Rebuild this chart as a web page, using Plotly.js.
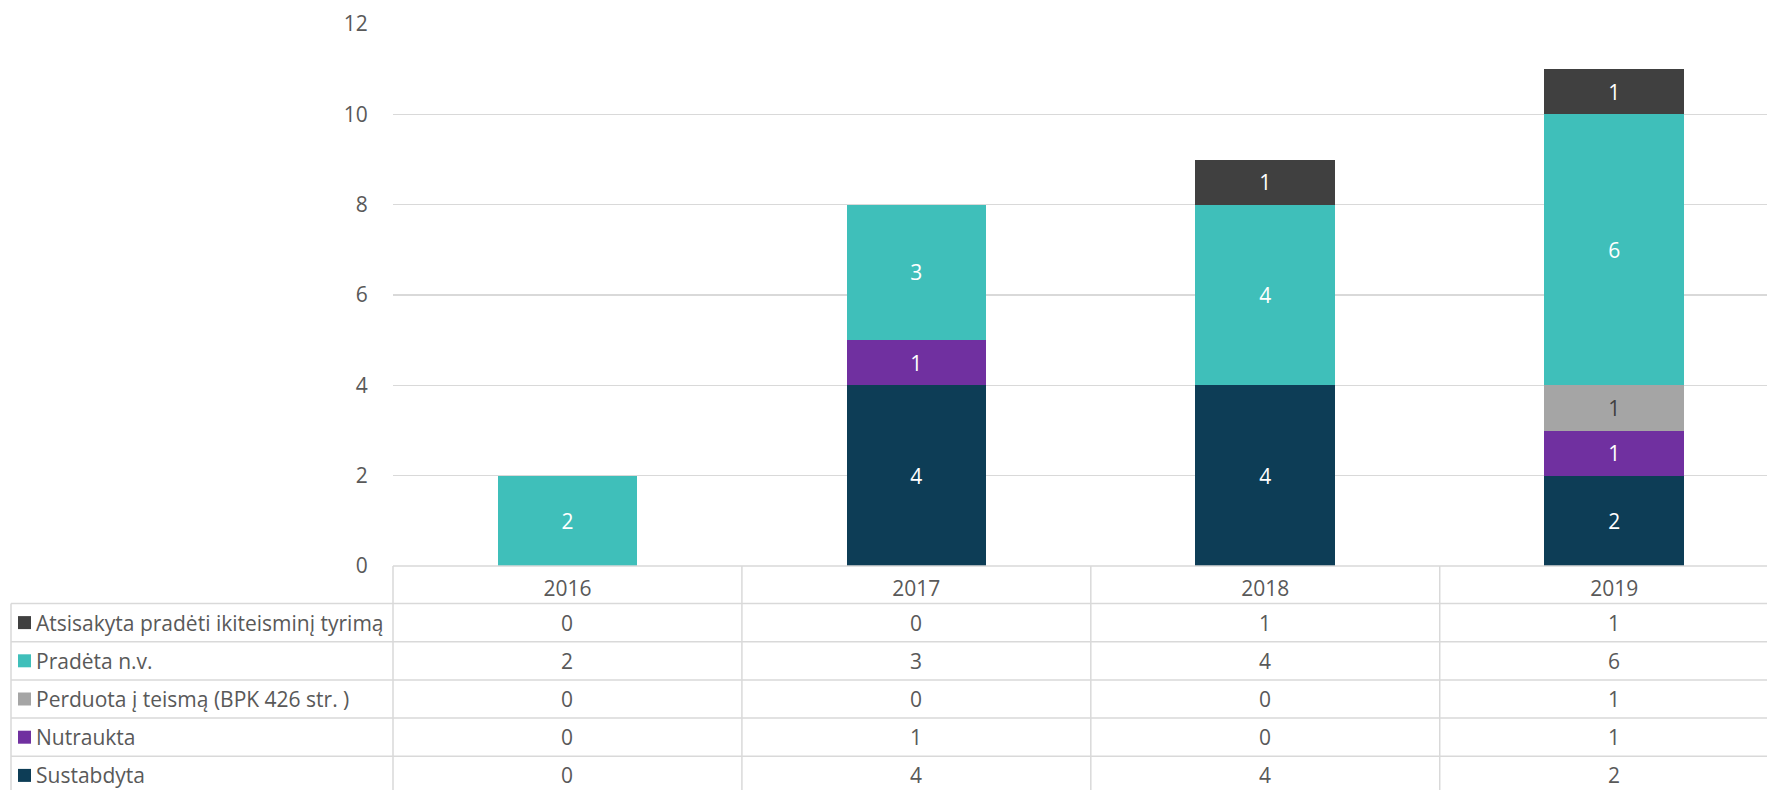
<!DOCTYPE html>
<html>
<head>
<meta charset="utf-8">
<script src="https://cdn.plot.ly/plotly-3.0.1.min.js"></script>
<style>html,body{margin:0;padding:0;background:#fff;}#chart{width:1767px;height:790px;}</style>
</head>
<body>
<div id="chart"></div>
<script>
const categories = ['2016', '2017', '2018', '2019'];
const sustabdyta = [0, 4, 4, 2];
const nutraukta = [0, 1, 0, 1];
const perduota = [0, 0, 0, 1];
const pradeta = [2, 3, 4, 6];
const atsisakyta = [0, 0, 1, 1];
const yTicks = [0, 2, 4, 6, 8, 10, 12];

// stacking order bottom -> top
const series = [
  {name: 'Sustabdyta', values: sustabdyta, color: '#0D3D56', text: '#FFFFFF'},
  {name: 'Nutraukta', values: nutraukta, color: '#7030A0', text: '#FFFFFF'},
  {name: 'Perduota į teismą (BPK 426 str. )', values: perduota, color: '#A5A5A5', text: '#404040'},
  {name: 'Pradėta n.v.', values: pradeta, color: '#3FBFBA', text: '#FFFFFF'},
  {name: 'Atsisakyta pradėti ikiteisminį tyrimą', values: atsisakyta, color: '#404040', text: '#FFFFFF'}
];

const W = 1767, H = 790;
const L = 393, T = 24, B = 566;     // plot area pixel bounds
const plotW = W - L, plotH = B - T;
const xMin = -0.5, xMax = 3.438;
const FONT = '"Open Sans", sans-serif';
const FS = 21;
const GRID = '#D9D9D9';
const TXT = '#595959';

const px2x = p => (p - L) / plotW;
const px2y = p => (B - p) / plotH;
const cat2x = c => (c - xMin) / (xMax - xMin);

const traces = series.map(s => ({
  type: 'bar',
  name: s.name,
  x: categories,
  y: s.values,
  width: 0.4,
  marker: {color: s.color, line: {width: 0}},
  text: s.values.map(v => v ? String(v) : ''),
  textposition: 'inside',
  insidetextanchor: 'middle',
  textangle: 0,
  constraintext: 'none',
  textfont: {family: FONT, size: FS, color: s.text},
  hoverinfo: 'skip',
  showlegend: false
}));

const shapes = [];
const annotations = [];
const headerBottom = 603.5;
const rowH = 38.2;
const tableLeft = 11;

// horizontal lines of the table
shapes.push({type: 'line', xref: 'paper', yref: 'paper', x0: 0, x1: 1, y0: 0, y1: 0, line: {color: GRID, width: 1.5}});
for (let r = 0; r <= 5; r++) {
  const py = headerBottom + r * rowH;
  shapes.push({type: 'line', xref: 'paper', yref: 'paper', x0: px2x(tableLeft), x1: 1, y0: px2y(py), y1: px2y(py), line: {color: GRID, width: 1.5}});
}
// vertical lines
shapes.push({type: 'line', xref: 'paper', yref: 'paper', x0: px2x(tableLeft), x1: px2x(tableLeft), y0: px2y(headerBottom), y1: px2y(H + 5), line: {color: GRID, width: 1.5}});
for (let c = 0; c < categories.length; c++) {
  const xp = cat2x(c - 0.5);
  if (xp > 1) continue;
  shapes.push({type: 'line', xref: 'paper', yref: 'paper', x0: xp, x1: xp, y0: 0, y1: px2y(H + 5), line: {color: GRID, width: 1.5}});
}

// table rows: top -> bottom is reverse stacking order
const rows = series.slice().reverse();
rows.forEach((s, r) => {
  const cy = headerBottom + rowH * (r + 0.5);
  shapes.push({type: 'rect', xref: 'paper', yref: 'paper',
    x0: px2x(18), x1: px2x(31), y0: px2y(cy - 6.5), y1: px2y(cy + 6.5),
    fillcolor: s.color, line: {width: 0}});
  annotations.push({xref: 'paper', yref: 'paper', x: px2x(34), y: px2y(cy), xanchor: 'left', yanchor: 'middle',
    text: s.name, showarrow: false, font: {family: FONT, size: FS, color: TXT}});
  s.values.forEach((v, c) => {
    annotations.push({xref: 'paper', yref: 'paper', x: cat2x(c), y: px2y(cy), xanchor: 'center', yanchor: 'middle',
      text: String(v), showarrow: false, font: {family: FONT, size: FS, color: TXT}});
  });
});

const layout = {
  width: W, height: H,
  margin: {l: L, r: 0, t: T, b: H - B, pad: 0},
  paper_bgcolor: '#FFFFFF', plot_bgcolor: '#FFFFFF',
  barmode: 'stack',
  font: {family: FONT, size: FS, color: TXT},
  xaxis: {
    type: 'category', categoryarray: categories, range: [xMin, xMax],
    showgrid: false, zeroline: false, showline: false,
    ticks: 'outside', ticklen: 4, tickcolor: 'rgba(0,0,0,0)',
    tickfont: {family: FONT, size: FS, color: TXT}, fixedrange: true
  },
  yaxis: {
    range: [0, 12], tickvals: yTicks, ticktext: yTicks.map(String),
    showgrid: true, gridcolor: GRID, gridwidth: 1.5, zeroline: false, showline: false,
    ticks: 'outside', ticklen: 20, tickcolor: 'rgba(0,0,0,0)',
    tickfont: {family: FONT, size: FS, color: TXT}, fixedrange: true
  },
  shapes: shapes,
  annotations: annotations,
  showlegend: false
};

Plotly.newPlot('chart', traces, layout, {displayModeBar: false, staticPlot: true});
</script>
</body>
</html>
